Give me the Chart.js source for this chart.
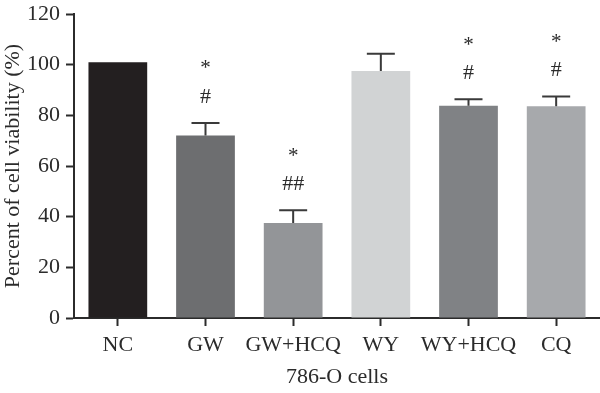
<!DOCTYPE html>
<html>
<head>
<meta charset="utf-8">
<script src="https://cdn.jsdelivr.net/npm/chart.js@4/dist/chart.umd.min.js"></script>
<style>
  html, body { margin: 0; padding: 0; background: #fff; }
  #wrap { width: 600px; height: 393px; }
</style>
</head>
<body>
<div id="wrap"><canvas id="viabilityChart"></canvas></div>
<script>
// Data
const groups = ['NC', 'GW', 'GW+HCQ', 'WY', 'WY+HCQ', 'CQ'];
const viability = [101, 72, 37.5, 97.5, 83.8, 83.6];
const errorSd = [0, 5, 5, 6.8, 2.5, 3.8];
const starMarks = ['', '*', '*', '', '*', '*'];
const hashMarks = ['', '#', '##', '', '#', '#'];
const yTicks = [0, 20, 40, 60, 80, 100, 120];

const barColors = ['#231f20', '#6d6e70', '#939598', '#d1d3d4', '#808285', '#a7a9ac'];
const inkColor = '#2b2b2b';
const serif = "'Liberation Serif', 'DejaVu Serif', serif";

// error bars + significance marks
const errorBarPlugin = {
    id: 'errorBars',
    afterDatasetsDraw(chart) {
        const { ctx, scales: { x, y } } = chart;
        ctx.save();
        ctx.strokeStyle = '#3a3a3a';
        ctx.lineWidth = 2;
        groups.forEach((g, i) => {
            const cx = x.getPixelForValue(i);
            const top = y.getPixelForValue(viability[i]);
            const errTop = y.getPixelForValue(viability[i] + errorSd[i]);
            if (errorSd[i] > 0) {
                ctx.beginPath();
                ctx.moveTo(cx, top);
                ctx.lineTo(cx, errTop);
                ctx.moveTo(cx - 14, errTop);
                ctx.lineTo(cx + 14, errTop);
                ctx.stroke();
            }
            ctx.fillStyle = inkColor;
            ctx.textAlign = 'center';
            ctx.textBaseline = 'middle';
            ctx.font = `22px ${serif}`;
            if (hashMarks[i]) ctx.fillText(hashMarks[i], cx, errTop - 26);
            ctx.font = `21px ${serif}`;
            if (starMarks[i]) ctx.fillText(starMarks[i], cx, errTop - 54);
        });
        ctx.restore();
    }
};

const ctx = document.getElementById('viabilityChart').getContext('2d');
const viabilityChart = new Chart(ctx, {
    type: 'bar',
    data: {
        labels: groups,
        datasets: [{
            data: viability,
            backgroundColor: barColors,
            borderWidth: 0,
            barPercentage: 0.67,
            categoryPercentage: 1
        }]
    },
    options: {
        responsive: true,
        maintainAspectRatio: false,
        animation: false,
        layout: { padding: { top: 14, right: 0, left: 0, bottom: 0 } },
        plugins: {
            legend: { display: false },
            tooltip: { enabled: false }
        },
        scales: {
            x: {
                grid: { offset: false, drawOnChartArea: false, drawTicks: true, tickLength: 8, color: inkColor, tickWidth: 2 },
                border: { display: true, color: inkColor, width: 2 },
                ticks: { color: inkColor, font: { family: serif, size: 22 }, padding: 6, maxRotation: 0, autoSkip: false },
                title: {
                    display: true,
                    text: '786-O cells',
                    color: inkColor,
                    font: { family: serif, size: 22 },
                    padding: { top: 0, bottom: 3 }
                },
                afterFit(scale) {
                    scale.height = 75;
                    scale.paddingLeft = 0;
                    scale.paddingRight = 0;
                }
            },
            y: {
                min: 0,
                max: 120,
                afterBuildTicks(scale) { scale.ticks = yTicks.map(v => ({ value: v })); },
                grid: { drawOnChartArea: false, drawTicks: true, tickLength: 8, color: inkColor, tickWidth: 2 },
                border: { display: true, color: inkColor, width: 2 },
                ticks: { color: inkColor, font: { family: serif, size: 22 }, padding: 6 },
                title: {
                    display: true,
                    text: 'Percent of cell viability (%)',
                    color: inkColor,
                    font: { family: serif, size: 22 },
                    padding: { top: 0, bottom: 0 }
                },
                afterFit(scale) {
                    scale.width = 74;
                    scale.paddingTop = 0;
                    scale.paddingBottom = 0;
                }
            }
        }
    },
    plugins: [errorBarPlugin]
});
</script>
</body>
</html>
